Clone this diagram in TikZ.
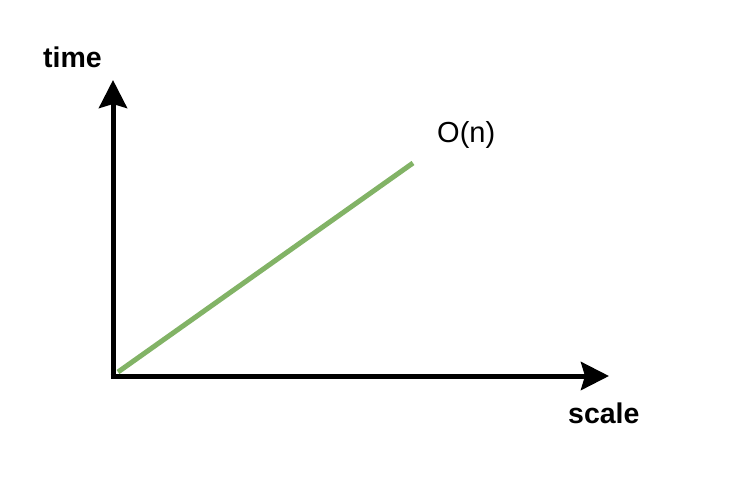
\documentclass[tikz,border=0pt]{standalone}
\usepackage{fontspec}
\setmainfont{Liberation Sans}
\usetikzlibrary{arrows.meta}
\definecolor{curvegreen}{HTML}{82B366}
\begin{document}
\begin{tikzpicture}[x=1pt,y=-1pt,
  axis/.style={line width=5pt,-{Stealth[length=28pt,width=28pt,inset=4pt]}},
  curve/.style={line width=5pt,draw=curvegreen},
  lbl/.style={anchor=base west,inner sep=0pt,font=\fontsize{28.5}{30}\selectfont}]
\useasboundingbox (0,0) rectangle (743,499);
\coordinate (vbot) at (113,378.5);
\coordinate (vtop) at (113,80);
\coordinate (hleft) at (110.5,376);
\coordinate (hright) at (609,376);
\coordinate (gstart) at (118,372);
\coordinate (gend) at (413,163);
\draw[axis] (vbot) -- (vtop);
\draw[axis] (hleft) -- (hright);
\draw[curve] (gstart) -- (gend);
\node[lbl,font=\fontsize{28.5}{30}\selectfont\bfseries] (time) at (43,67) {time};
\node[lbl,font=\fontsize{28.5}{30}\selectfont\bfseries] (scale) at (568,423) {scale};
\node[lbl,font=\fontsize{29}{30}\selectfont] (on) at (437,142) {O(n)};
\end{tikzpicture}
\end{document}
